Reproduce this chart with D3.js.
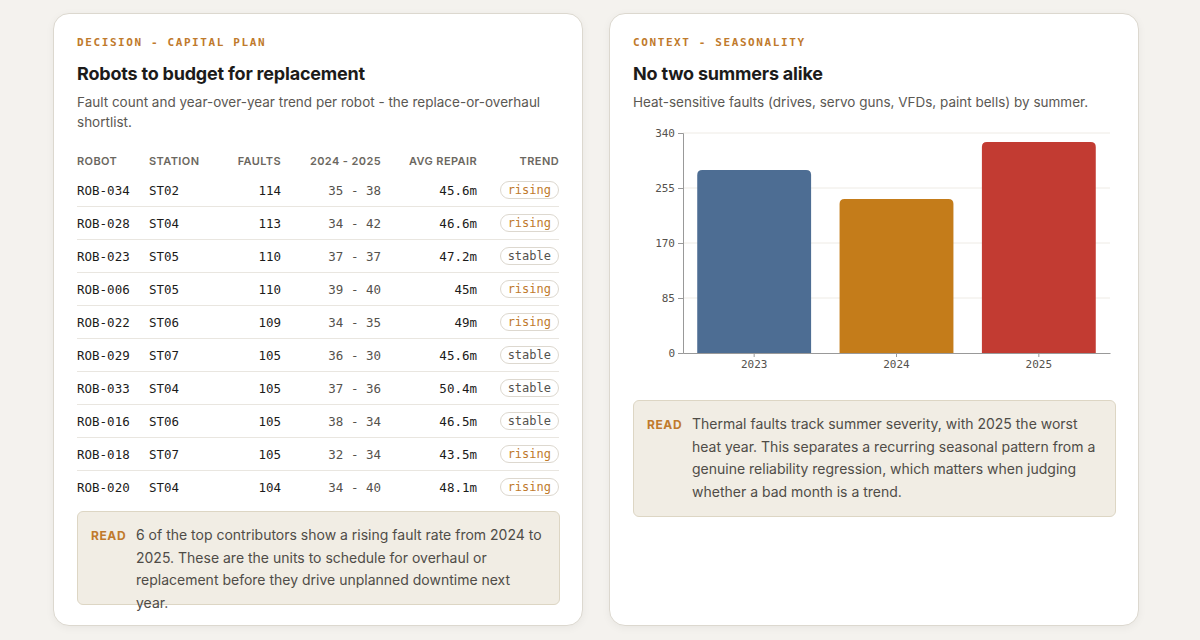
<!DOCTYPE html>
<head>
  <meta charset="utf-8">
  <script src="https://d3js.org/d3.v7.min.js"></script>
  <style>
    body { margin: 0; background: #f4f2ee; font-family: Inter, "Noto Sans", sans-serif; color: #1c1b1a; }
    .card { position: absolute; top: 13px; width: 530px; height: 613px; background: #fff; border: 1px solid #dcd8cf;
      border-radius: 16px; box-sizing: border-box; padding: 22px 23px; box-shadow: 0 2px 8px rgba(0,0,0,0.05); }
    .eyebrow { font-family: "DejaVu Sans Mono", monospace; font-size: 11px; font-weight: bold; letter-spacing: 1.6px; color: #c07a2c; }
    h2 { margin: 14px 0 0; font-size: 18px; font-weight: 700; letter-spacing: -0.2px; }
    .sub { margin-top: 8px; font-size: 13.5px; line-height: 20px; color: #5b5853; }
    table { border-collapse: collapse; width: 482px; margin-top: 22px; font-family: "DejaVu Sans Mono", monospace; font-size: 12.5px; }
    th { font-family: Inter, sans-serif; font-size: 11px; font-weight: 600; color: #6b6760; letter-spacing: 0.4px; text-align: left; padding: 0 0 6px; }
    td { height: 32px; border-bottom: 1px solid #e9e6e0; padding: 0; }
    tr:last-child td { border-bottom: none; }
    .r { text-align: right; }
    .mid { color: #55524d; }
    .pill { display: inline-block; border: 1px solid #ddd8cf; border-radius: 10px; padding: 1px 7px; font-size: 12px; }
    .rising { color: #c07a2c; }
    .stable { color: #55524d; }
    .read { position: absolute; background: #f1ede4; border: 1px solid #ddd6c4; border-radius: 6px; box-sizing: border-box;
      padding: 12px 14px 12px 58px; font-size: 14px; line-height: 22.5px; color: #4f4c47; }
    .read b { position: absolute; left: 13px; top: 13px; font-size: 12px; letter-spacing: 0.6px; color: #c07a2c; }
    .axis text { font-family: "DejaVu Sans Mono", monospace; font-size: 11px; fill: #55524d; }
    .axis path, .axis line { stroke: #999; }
  </style>
</head>
<body>
<div class="card" id="left" style="left:53px"></div>
<div class="card" id="right" style="left:609px"></div>
<script>
const robots = ["ROB-034","ROB-028","ROB-023","ROB-006","ROB-022","ROB-029","ROB-033","ROB-016","ROB-018","ROB-020"];
const stations = ["ST02","ST04","ST05","ST05","ST06","ST07","ST04","ST06","ST07","ST04"];
const faults = [114,113,110,110,109,105,105,105,105,104];
const y2024 = [35,34,37,39,34,36,37,38,32,34];
const y2025 = [38,42,37,40,35,30,36,34,34,40];
const avgRepair = ["45.6m","46.6m","47.2m","45m","49m","45.6m","50.4m","46.5m","43.5m","48.1m"];
const trend = ["rising","rising","stable","rising","rising","stable","stable","stable","rising","rising"];

const years = ["2023","2024","2025"];
const heatFaults = [283,238,326];
const barColors = ["#4d6d93","#c47c1a","#c23b32"];
const yTicks = [0,85,170,255,340];

// left card
const L = d3.select("#left");
L.append("div").attr("class","eyebrow").text("DECISION - CAPITAL PLAN");
L.append("h2").text("Robots to budget for replacement");
L.append("div").attr("class","sub").text("Fault count and year-over-year trend per robot - the replace-or-overhaul shortlist.");
const tbl = L.append("table");
const cols = [["ROBOT","",72],["STATION","",70],["FAULTS","r",62],["2024 - 2025","r",100],["AVG REPAIR","r",96],["TREND","r",82]];
tbl.append("tr").selectAll("th").data(cols).join("th")
  .attr("class", d => d[1]).style("width", d => d[2] + "px").text(d => d[0]);
const rows = tbl.selectAll("tr.row").data(robots).join("tr").attr("class","row");
rows.append("td").text(d => d);
rows.append("td").text((d,i) => stations[i]);
rows.append("td").attr("class","r").text((d,i) => faults[i]);
rows.append("td").attr("class","r mid").text((d,i) => y2024[i] + " - " + y2025[i]);
rows.append("td").attr("class","r").text((d,i) => avgRepair[i]);
rows.append("td").attr("class","r").append("span").attr("class",(d,i) => "pill " + trend[i]).text((d,i) => trend[i]);
L.append("div").attr("class","read").style("left","23px").style("top","497px").style("width","483px").style("height","94px")
  .html("<b>READ</b>6 of the top contributors show a rising fault rate from 2024 to 2025. These are the units to schedule for overhaul or replacement before they drive unplanned downtime next year.");

// right card
const R = d3.select("#right");
R.append("div").attr("class","eyebrow").text("CONTEXT - SEASONALITY");
R.append("h2").text("No two summers alike");
R.append("div").attr("class","sub").text("Heat-sensitive faults (drives, servo guns, VFDs, paint bells) by summer.");

const svg = R.append("svg").attr("width",484).attr("height",260)
  .style("position","absolute").style("left","23px").style("top","110px");
const m = {left: 50, top: 9, right: 7};
const x = d3.scaleBand().domain(years).range([m.left, 484 - m.right]).paddingInner(0.2).paddingOuter(0.1);
const y = d3.scaleLinear().domain([0,340]).range([229, m.top]);

svg.append("g").selectAll("line").data(yTicks.slice(1)).join("line")
  .attr("x1", m.left).attr("x2", 484 - m.right).attr("y1", d => y(d)).attr("y2", d => y(d))
  .attr("stroke","#eeebe5");
svg.append("g").selectAll("path").data(heatFaults).join("path")
  .attr("fill",(d,i) => barColors[i])
  .attr("d",(d,i) => {
    const x0 = x(years[i]), w = x.bandwidth(), y0 = y(d), y1 = y(0), r = 5;
    return `M${x0},${y1}V${y0+r}Q${x0},${y0} ${x0+r},${y0}H${x0+w-r}Q${x0+w},${y0} ${x0+w},${y0+r}V${y1}Z`;
  });
svg.append("g").attr("class","axis").attr("transform",`translate(${m.left},0)`)
  .call(d3.axisLeft(y).tickValues(yTicks).tickSize(5));
svg.append("g").attr("class","axis").attr("transform",`translate(0,${y(0)})`)
  .call(d3.axisBottom(x).tickSize(4).tickSizeOuter(0));

R.append("div").attr("class","read").style("left","23px").style("top","386px").style("width","483px").style("height","117px")
  .html("<b>READ</b>Thermal faults track summer severity, with 2025 the worst heat year. This separates a recurring seasonal pattern from a genuine reliability regression, which matters when judging whether a bad month is a trend.");
</script>
</body>
